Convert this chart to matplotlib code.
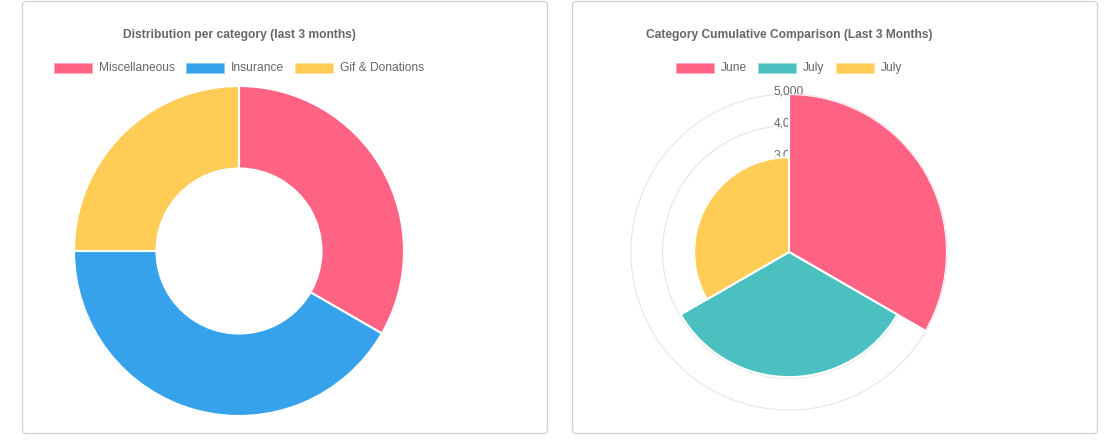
import numpy as np
import matplotlib
matplotlib.use("Agg")
import matplotlib.pyplot as plt
from matplotlib.patches import FancyBboxPatch, Rectangle

# ---------------- data ----------------
doughnut_title = "Distribution per category (last 3 months)"
doughnut_labels = ["Miscellaneous", "Insurance", "Gif & Donations"]
doughnut_values = [400, 500, 300]
doughnut_colors = ["#FF6384", "#36A2EB", "#FFCD56"]

polar_title = "Category Cumulative Comparison (Last 3 Months)"
polar_labels = ["June", "July", "July"]
polar_values = [5000, 3960, 3000]
polar_colors = ["#FF6384", "#4BC0C0", "#FFCD56"]
polar_ticks = [1000, 2000, 3000, 4000, 5000]
polar_max = 5000

W, H = 1115, 445
TEXT = "#666666"
plt.rcParams['font.family'] = ['Liberation Sans', 'DejaVu Sans']
FS = 12 * 72 / 100  # 12px

fig = plt.figure(figsize=(W / 100, H / 100), dpi=100)
fig.patch.set_facecolor("white")

bg = fig.add_axes([0, 0, 1, 1])
bg.set_xlim(0, W)
bg.set_ylim(H, 0)
bg.axis("off")
bg.set_zorder(-5)

# cards
for x0, x1 in [(22.5, 547.5), (572.5, 1097.5)]:
    bg.add_patch(FancyBboxPatch((x0, 1.5), x1 - x0, 432, boxstyle="round,pad=0,rounding_size=4",
                                fc="white", ec="#d2d2d2", lw=0.9))

# overlay axes for text (above everything)
ov = fig.add_axes([0, 0, 1, 1])
ov.set_xlim(0, W)
ov.set_ylim(H, 0)
ov.axis("off")
ov.set_zorder(10)
ov.patch.set_alpha(0)

def px_ax(cx, cy, r, **kw):
    return fig.add_axes([(cx - r) / W, 1 - (cy + r) / H, 2 * r / W, 2 * r / H], **kw)

def legend_row(cx, cy, labels, colors):
    renderer = fig.canvas.get_renderer()
    box_w, box_h, gap_t, gap_i = 38, 10, 7, 11
    texts = []
    widths = []
    for lab in labels:
        t = ov.text(0, cy, lab, fontsize=FS, color=TEXT, va="center", ha="left")
        texts.append(t)
        widths.append(t.get_window_extent(renderer).width)
    total = sum(box_w + gap_t + w for w in widths) + gap_i * (len(labels) - 1)
    x = cx - total / 2
    for t, w, col in zip(texts, widths, colors):
        ov.add_patch(Rectangle((x, cy - box_h / 2), box_w, box_h, fc=col, ec="white", lw=0.6, alpha=1))
        ov.add_patch(Rectangle((x, cy - box_h / 2), box_w, box_h, fc="none", ec=col, lw=0.6, alpha=0.6))
        t.set_x(x + box_w + gap_t)
        x += box_w + gap_t + w + gap_i

# ---------------- doughnut ----------------
dcx, dcy, dr = 239, 251, 165
ax1 = px_ax(dcx, dcy, dr)
ax1.pie(doughnut_values, colors=doughnut_colors, startangle=90, counterclock=False, radius=1,
        wedgeprops=dict(width=0.5, edgecolor="white", linewidth=1.5))
ax1.set_xlim(-1.0, 1.0)
ax1.set_ylim(-1.0, 1.0)
ax1.axis("off")

ov.text(239, 35, doughnut_title, fontsize=FS, fontweight="bold", color=TEXT, ha="center", va="center")
legend_row(239, 68, doughnut_labels, doughnut_colors)

# ---------------- polar area ----------------
pcx, pcy, pr = 789, 252, 158
ax2 = px_ax(pcx, pcy, pr, projection="polar")
ax2.set_theta_zero_location("N")
ax2.set_theta_direction(-1)
ax2.set_ylim(0, polar_max)
ax2.set_xticks([])
ax2.set_yticks([])
ax2.spines["polar"].set_visible(False)
ax2.grid(False)
ax2.patch.set_alpha(0)

n = len(polar_values)
theta = np.arange(n) * 2 * np.pi / n + np.pi / n
ax2.bar(theta, polar_values, width=2 * np.pi / n, color=polar_colors, edgecolor="white",
        linewidth=1.5, zorder=3)
full = np.linspace(0, 2 * np.pi, 400)
for t in polar_ticks:
    ax2.plot(full, np.full_like(full, t), color="#e6e6e6", lw=0.8, zorder=1, clip_on=False)
    ax2.annotate(f"{t:,}", xy=(0, t), xytext=(0, 2), textcoords="offset pixels",
                 fontsize=FS, color=TEXT, ha="center", va="center", zorder=2, annotation_clip=False)

ov.text(789.5, 35, polar_title, fontsize=FS, fontweight="bold", color=TEXT, ha="center", va="center")
legend_row(789, 68, polar_labels, polar_colors)

fig.savefig("out.png", dpi=100, facecolor="white")
